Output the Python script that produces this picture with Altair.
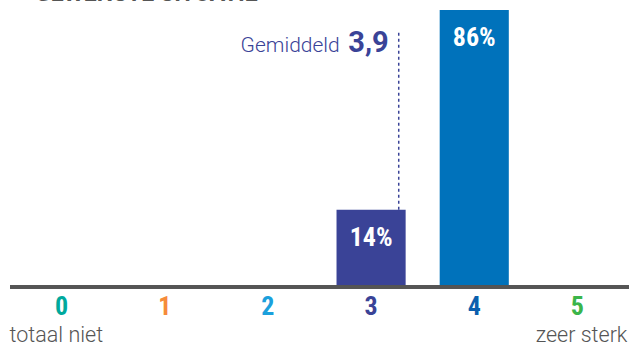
import altair as alt
import pandas as pd

categories = ["0", "1", "2", "3", "4", "5"]
percentages = [0, 0, 0, 14, 86, 0]
label_colors = ["#00a99d", "#f68b3a", "#1ba0dc", "#3a4397", "#0b5fae", "#3bb54a"]
bar_colors = ["#3a4397", "#0072bb"]
mean_value = 3.9
mean_label = "3,9"
mean_text = "Gemiddeld"
end_labels = ["totaal niet", "zeer sterk"]
title_text = "GEWENSTE SITUATIE"

BASE = -13.9
TOP = 89.6

df = pd.DataFrame({"cat": categories, "pct": percentages})
df["label"] = df["pct"].astype(str) + "%"
bars_df = df[df["pct"] > 0]

cond_font = "Roboto Condensed, Liberation Sans Narrow, Roboto"

xscale = alt.Scale(domain=categories, paddingInner=0.33, paddingOuter=0.165)
xenc = alt.X("cat:O", sort=categories, scale=xscale, axis=None)
yscale = alt.Scale(domain=[BASE, TOP], nice=False, zero=False)

base = alt.Chart(bars_df)

bars = base.mark_bar().encode(
    x=xenc,
    y=alt.Y("pct:Q", scale=yscale, axis=None),
    y2=alt.datum(BASE),
    color=alt.Color("cat:N", scale=alt.Scale(domain=["3", "4"], range=bar_colors), legend=None),
)

bar_text = base.mark_text(color="white", font=cond_font, fontWeight="bold", fontSize=26,
                          baseline="top", dy=15).encode(
    x=xenc, y=alt.Y("pct:Q", scale=yscale), text="label:N")

baseline_rule = alt.Chart(df).mark_rule(color="#555555", strokeWidth=3).encode(
    x=alt.value(0), x2=alt.value(619), y=alt.datum(BASE))

digit_labels = alt.Chart(df).mark_text(font=cond_font, fontWeight="bold", fontSize=26,
                                       baseline="middle", dy=20).encode(
    x=xenc, y=alt.datum(BASE), text="cat:N",
    color=alt.Color("cat:N", scale=alt.Scale(domain=categories, range=label_colors), legend=None),
)

ends_df = pd.DataFrame({"cat": [categories[0], categories[-1]], "txt": end_labels})
end_left = alt.Chart(ends_df.iloc[[0]]).mark_text(font="Roboto", fontWeight=300, fontSize=21.5, color="#555555",
                                                  align="left", baseline="alphabetic", dx=-52, dy=55).encode(
    x=xenc, y=alt.datum(BASE), text="txt:N")
end_right = alt.Chart(ends_df.iloc[[1]]).mark_text(font="Roboto", fontWeight=300, fontSize=21.5, color="#555555",
                                                   align="right", baseline="alphabetic", dx=50, dy=55).encode(
    x=xenc, y=alt.datum(BASE), text="txt:N")

mean_cat = str(int(mean_value))
mean_frac = round(mean_value - int(mean_value), 2)
mean_df = pd.DataFrame({"cat": [mean_cat], "mean": [mean_value], "lab": [mean_label],
                        "txt": [mean_text], "bar": [percentages[int(mean_value)]]})
mx = alt.X("cat:O", sort=categories, bandPosition=mean_frac, scale=xscale, axis=None)
mean_rule = alt.Chart(mean_df).mark_rule(color="#3a4397", strokeDash=[3, 3], strokeWidth=1.5).encode(
    x=mx, y=alt.Y("bar:Q", scale=yscale), y2=alt.value(30))
mean_num = alt.Chart(mean_df).mark_text(font="Roboto", fontWeight="bold", fontSize=29, color="#3a4397",
                                        align="right", baseline="alphabetic", dx=-10).encode(
    x=mx, y=alt.value(52), text="lab:N")
mean_word = alt.Chart(mean_df).mark_text(font="Roboto", fontWeight=300, fontSize=21, color="#3a4397",
                                         align="right", baseline="alphabetic", dx=-59).encode(
    x=mx, y=alt.value(52), text="txt:N")

title = alt.Chart(mean_df).mark_text(font="Roboto", fontWeight="bold", fontSize=23, color="#555555",
                                     align="left", baseline="alphabetic", text=title_text).encode(
    x=alt.value(25), y=alt.value(1))

chart = alt.layer(
    bars, bar_text, baseline_rule, digit_labels, end_left, end_right,
    mean_rule, mean_num, mean_word, title
).resolve_scale(color="independent").properties(
    width=619, height=287,
    padding={"left": 10, "top": 0, "right": 0, "bottom": 56},
    autosize=alt.AutoSizeParams(type="none"),
).configure_view(stroke=None)

chart.save("out.html", embed_options={"renderer": "svg", "actions": False})
